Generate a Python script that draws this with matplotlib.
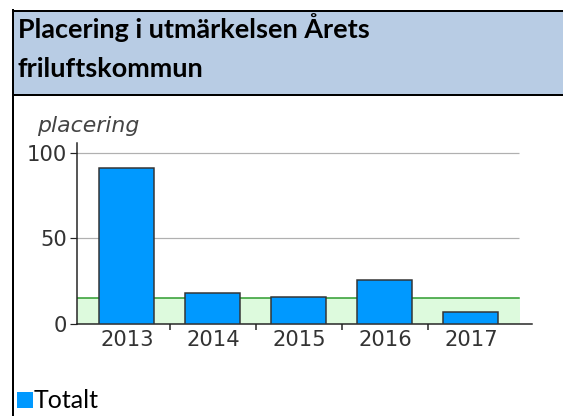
import matplotlib.pyplot as plt
from matplotlib.patches import Rectangle
from matplotlib.lines import Line2D

# data
years = ["2013", "2014", "2015", "2016", "2017"]
placering = [91, 18, 16, 26, 7]
reference = 15
series_label = "Totalt"
title_lines = ["Placering i utmärkelsen Årets", "friluftskommun"]
y_label = "placering"

W, H = 563, 416
DPI = 72

bar_color = "#0099ff"
header_color = "#b8cce4"


def px(x, y):
    # pixel coords (from top-left) -> figure fraction
    return x / W, 1 - y / H


def main():
    fig = plt.figure(figsize=(W / DPI, H / DPI), dpi=DPI)

    # header box and left border
    fig.patches.append(Rectangle(px(13, 95), (W - 13) / W, 84 / H, transform=fig.transFigure,
                                 facecolor=header_color, edgecolor="none", zorder=0))
    for y in (11, 95):
        fig.lines.append(Line2D([13 / W, 1], [1 - y / H] * 2, transform=fig.transFigure,
                                color="black", lw=2))
    fig.lines.append(Line2D([13 / W] * 2, [1 - 10 / H, 0], transform=fig.transFigure,
                            color="black", lw=2))

    fig.text(*px(18, 38), title_lines[0], fontsize=27, fontweight="bold", family="Lato",
             va="baseline", ha="left")
    fig.text(*px(18, 77), title_lines[1], fontsize=27, fontweight="bold", family="Lato",
             va="baseline", ha="left")

    # chart
    ax = fig.add_axes([77 / W, (H - 324) / H, (532 - 77) / W, (324 - 143) / H])
    x = list(range(len(years)))
    xmin, xmax = -0.58, 4.71
    ax.set_xlim(xmin, xmax)
    ax.set_ylim(0, 105.8)

    ax.axhspan(0, reference, xmin=0, xmax=(4.56 - xmin) / (xmax - xmin), color="#ddfadd", zorder=0)
    ax.plot([xmin, 4.56], [reference, reference], color="#2a9a2a", lw=1.5, zorder=1)
    ax.hlines([50, 100], xmin, 4.56, color="#b0b0b0", lw=1.2, zorder=1)

    ax.bar(x, placering, width=0.64, color=bar_color, edgecolor="#333333", lw=1.5, zorder=3)

    for s in ("top", "right"):
        ax.spines[s].set_visible(False)
    for s in ("left", "bottom"):
        ax.spines[s].set_linewidth(1.5)
        ax.spines[s].set_color("#222222")

    ax.set_yticks([0, 50, 100])
    ax.tick_params(axis="y", length=7, width=1.2, pad=3, labelsize=21, labelcolor="#333333",
                   color="#222222")
    ax.set_xticks([0.5, 1.5, 2.5, 3.5])
    ax.set_xticklabels([])
    ax.tick_params(axis="x", which="major", length=6, width=1.5, color="#222222")
    ax.set_xticks(x, minor=True)
    ax.set_xticklabels(years, minor=True)
    ax.tick_params(axis="x", which="minor", length=0, pad=6, labelsize=21, labelcolor="#333333")

    fig.text(*px(37, 132), y_label, fontsize=22, style="italic", color="#444444",
             va="baseline", ha="left")

    # legend
    fig.patches.append(Rectangle(px(17, 408), 16 / W, 16 / H, transform=fig.transFigure,
                                 facecolor=bar_color, edgecolor="none"))
    fig.text(*px(34, 408), series_label, fontsize=25, family="Lato", va="baseline", ha="left")

    fig.savefig("out.png", dpi=DPI)
    plt.close(fig)


if __name__ == '__main__':
    main()
